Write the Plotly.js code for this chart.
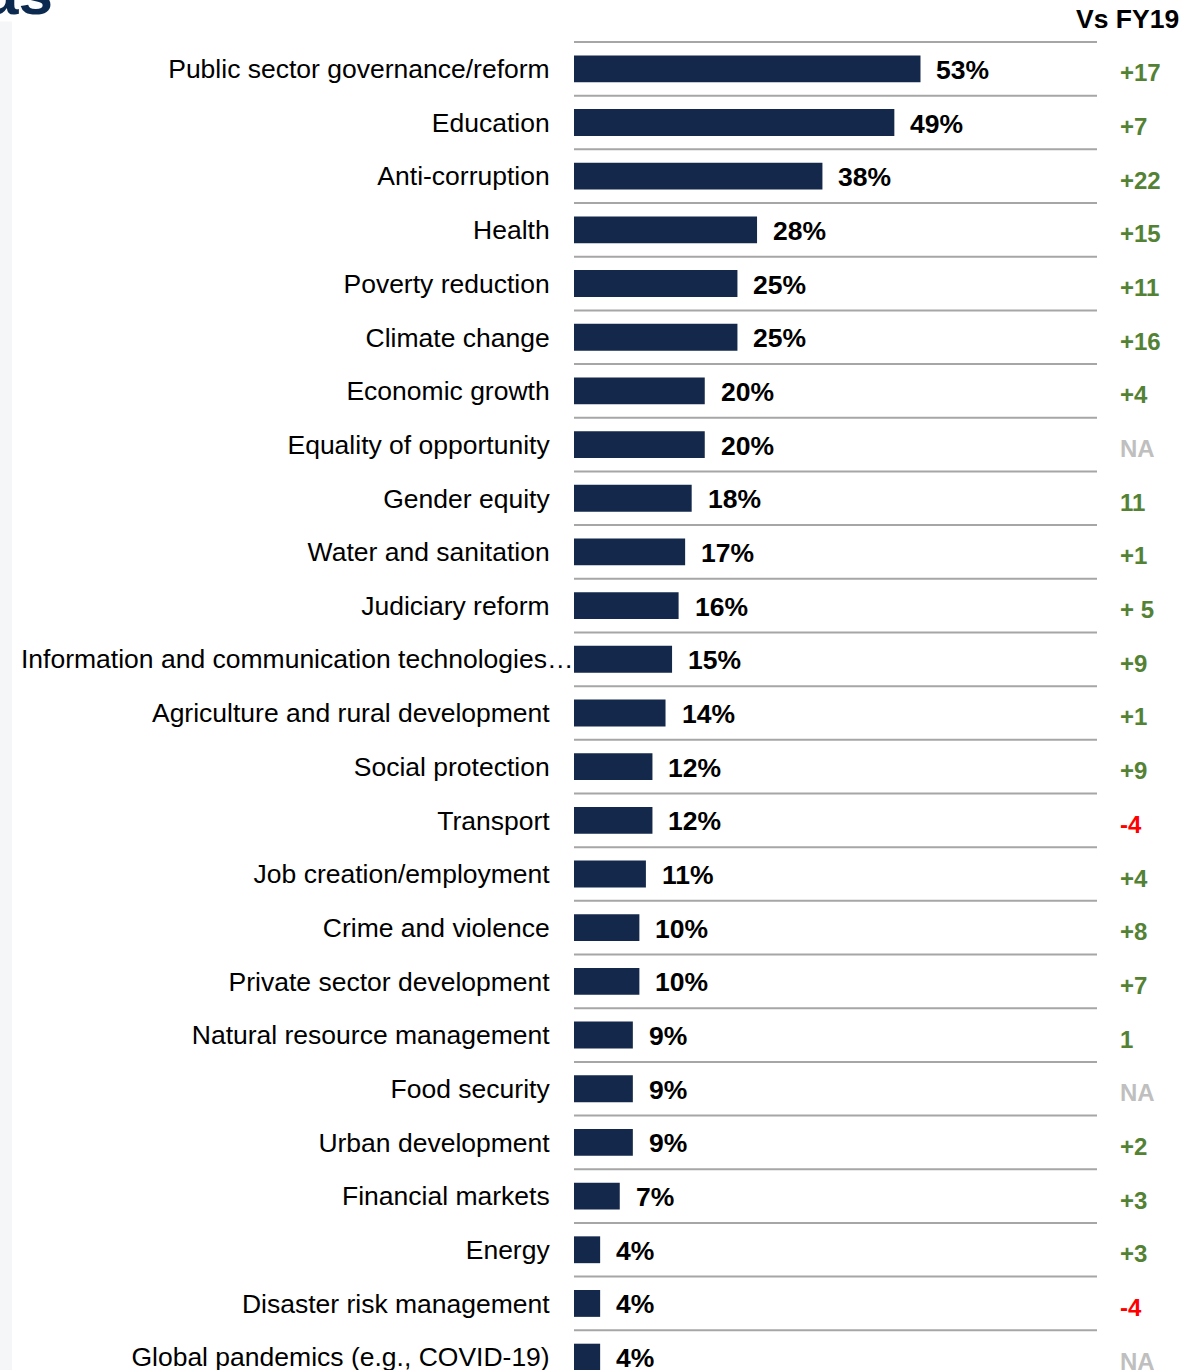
<!DOCTYPE html>
<html>
<head>
<meta charset="utf-8">
<script src="https://cdn.plot.ly/plotly-3.0.1.min.js"></script>
<style>
html, body { margin: 0; padding: 0; overflow: hidden; background: #ffffff; }
#chart { width: 1196px; height: 1370px; }
</style>
</head>
<body>
<div id="chart"></div>
<script>
const categories = [
  "Public sector governance/reform",
  "Education",
  "Anti-corruption",
  "Health",
  "Poverty reduction",
  "Climate change",
  "Economic growth",
  "Equality of opportunity",
  "Gender equity",
  "Water and sanitation",
  "Judiciary reform",
  "Information and communication technologies…",
  "Agriculture and rural development",
  "Social protection",
  "Transport",
  "Job creation/employment",
  "Crime and violence",
  "Private sector development",
  "Natural resource management",
  "Food security",
  "Urban development",
  "Financial markets",
  "Energy",
  "Disaster risk management",
  "Global pandemics (e.g., COVID-19)"
];
const values = [53, 49, 38, 28, 25, 25, 20, 20, 18, 17, 16, 15, 14, 12, 12, 11, 10, 10, 9, 9, 9, 7, 4, 4, 4];
const vsFY19 = ["+17", "+7", "+22", "+15", "+11", "+16", "+4", "NA", "11", "+1", "+ 5", "+9", "+1", "+9", "-4", "+4", "+8", "+7", "1", "NA", "+2", "+3", "+3", "-4", "NA"];
const columnHeader = "Vs FY19";
const titleFragment = "as";

const FONT = '"Liberation Sans", Arial, sans-serif';
const BAR_COLOR = '#14284b';
const GRID_COLOR = '#a6a6a6';
const LABEL_SIZE = 26.5;

function changeColor(s) {
  if (s === 'NA') return '#bfbfbf';
  if (s.trim().charAt(0) === '-') return '#ff0000';
  return '#548235';
}

// truncated (overflowing) labels are drawn separately so they can run up to the bars
const isTruncated = c => c.endsWith('…');
const tickText = categories.map(c => isTruncated(c) ? '' : c);

const trace = {
  type: 'bar',
  orientation: 'h',
  x: values,
  y: categories,
  width: 0.5,
  marker: { color: BAR_COLOR, line: { width: 0 } },
  hoverinfo: 'none'
};

const annotations = [];
categories.forEach((c, i) => {
  if (isTruncated(c)) {
    annotations.push({
      x: 0, y: c, xref: 'paper', yref: 'y',
      text: c, showarrow: false,
      xanchor: 'right', yanchor: 'middle', xshift: 1,
      font: { family: FONT, size: LABEL_SIZE, color: '#000000' }
    });
  }
});
values.forEach((v, i) => {
  annotations.push({
    x: v, y: categories[i], xref: 'x', yref: 'y',
    text: v + '%', showarrow: false,
    xanchor: 'left', yanchor: 'middle', xshift: 14, yshift: -1,
    font: { family: FONT, size: 26.5, color: '#000000', weight: 'bold' }
  });
});
vsFY19.forEach((s, i) => {
  annotations.push({
    x: 1.041, y: categories[i], xref: 'paper', yref: 'y',
    text: s, showarrow: false,
    xanchor: 'left', yanchor: 'middle', yshift: -4,
    font: { family: FONT, size: 24, color: changeColor(s), weight: 'bold' }
  });
});
annotations.push({
  x: 1.16, y: 1.0155, xref: 'paper', yref: 'paper',
  text: columnHeader, showarrow: false, xanchor: 'right', yanchor: 'middle',
  font: { family: FONT, size: 26.5, color: '#000000', weight: 'bold' }
});
annotations.push({
  x: -0.993, y: 1.0, xref: 'paper', yref: 'paper',
  text: titleFragment, showarrow: false, xanchor: 'right', yanchor: 'bottom',
  yshift: 11,
  font: { family: FONT, size: 62, color: '#0c2a4f', weight: 'bold' }
});

const shapes = [];
shapes.push({
  type: 'rect', xref: 'paper', yref: 'paper', layer: 'below',
  x0: -1.0975, x1: -1.0746, y0: -0.01, y1: 1.014,
  fillcolor: '#f5f6f8', line: { width: 0 }
});
for (let i = 0; i < categories.length; i++) {
  shapes.push({
    type: 'line', xref: 'paper', yref: 'y', layer: 'below',
    x0: 0, x1: 1, y0: i - 0.5, y1: i - 0.5,
    line: { color: GRID_COLOR, width: 2 }
  });
}

const layout = {
  width: 1196, height: 1370,
  margin: { l: 574, r: 99, t: 40, b: 0, pad: 0 },
  paper_bgcolor: '#ffffff', plot_bgcolor: '#ffffff',
  showlegend: false,
  bargap: 0.5,
  xaxis: {
    range: [0, 80], autorange: false,
    showgrid: false, zeroline: false, showline: false,
    showticklabels: false, ticks: ''
  },
  yaxis: {
    type: 'category',
    range: [24.24, -0.537], autorange: false,
    tickmode: 'array', tickvals: categories, ticktext: tickText,
    showgrid: false, zeroline: false, showline: false,
    ticks: 'outside', ticklen: 18, tickcolor: 'rgba(0,0,0,0)',
    tickfont: { family: FONT, size: LABEL_SIZE, color: '#000000' }
  },
  annotations: annotations,
  shapes: shapes
};

Plotly.newPlot('chart', [trace], layout, { displayModeBar: false, staticPlot: true });
</script>
</body>
</html>
